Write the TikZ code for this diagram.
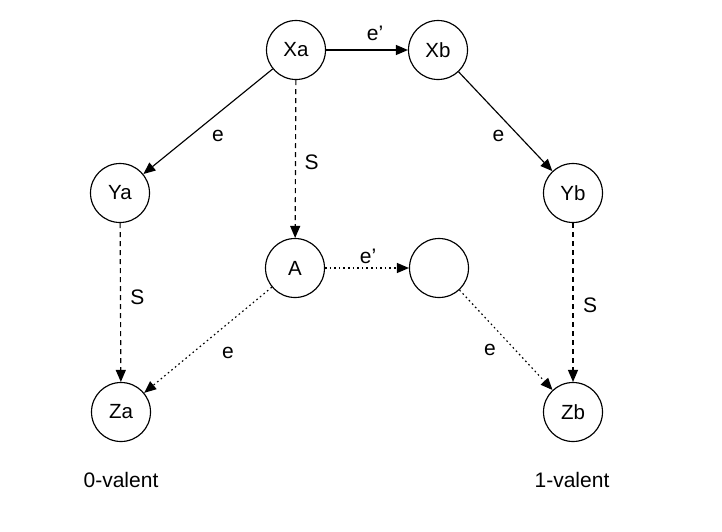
\documentclass[tikz,border=0pt]{standalone}
\usepackage{fontspec}
\setmainfont{Liberation Sans}
\usetikzlibrary{arrows.meta}
\begin{document}
\begin{tikzpicture}[x=1pt,y=-1pt,
  state/.style={draw, circle, minimum size=59pt, inner sep=0pt, line width=1.15pt, font=\fontsize{20.5}{22}\selectfont},
  lbl/.style={font=\fontsize{21}{23}\selectfont, inner sep=0pt},
  conn/.style={line width=1.15pt, -{Triangle[length=12pt,width=10pt]}},
  dsh/.style={dash pattern=on 5pt off 4pt},
  dtt/.style={dash pattern=on 1.6pt off 3pt}]
\useasboundingbox (0,0) rectangle (722,531);
\node[state] (Xa) at (296,50) {Xa};
\node[state] (Xb) at (438,50) {Xb};
\node[state] (Ya) at (120,193) {Ya};
\node[state] (Yb) at (573,193) {Yb};
\node[state] (A)  at (295,268) {A};
\node[state] (E)  at (439,268) {};
\node[state] (Za) at (121,412) {Za};
\node[state] (Zb) at (573,412) {Zb};
\node[lbl] (l0) at (121,480) {0-valent};
\node[lbl] (l1) at (572,480) {1-valent};
\draw[conn] (Xa) -- node[lbl, xshift=8pt, yshift=17pt] {e’} (Xb);
\draw[conn] (Xa) -- node[lbl, xshift=10pt, yshift=-14pt] {e} (Ya);
\draw[conn, dsh] (Xa) -- node[lbl, xshift=16pt, yshift=-3pt] {S} (A);
\draw[conn] (Xb) -- node[lbl, xshift=-7pt, yshift=-14pt] {e} (Yb);
\draw[conn, dsh] (Ya) -- node[lbl, xshift=17pt, yshift=5pt] {S} (Za);
\draw[conn, dsh] (Yb) -- node[lbl, xshift=17pt, yshift=-3pt] {S} (Zb);
\draw[conn, dtt] (A) -- node[lbl, xshift=1pt, yshift=12pt] {e’} (E);
\draw[conn, dtt] (A) -- node[lbl, xshift=20pt, yshift=-13pt] {e} (Za);
\draw[conn, dtt] (E) -- node[lbl, xshift=-16pt, yshift=-10pt] {e} (Zb);
\end{tikzpicture}
\end{document}
